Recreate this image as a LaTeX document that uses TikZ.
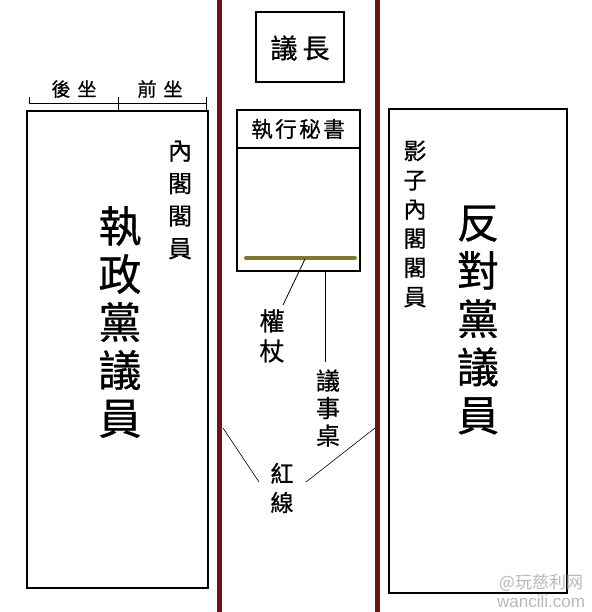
\documentclass[tikz,border=0pt]{standalone}
\usepackage{fontspec}
\setmainfont{Liberation Sans}
\newfontfamily\cjk[FakeBold=0.7]{Noto Sans CJK TC}
\newfontfamily\cjkplain{Noto Sans CJK TC}
\definecolor{redline}{RGB}{110,20,22}
\definecolor{macecol}{RGB}{128,122,40}
\begin{document}
\begin{tikzpicture}[x=1pt,y=-1pt,
  box/.style={draw=black,line width=1.4pt,inner sep=0pt},
  thinline/.style={draw=black,line width=0.8pt},
  redbar/.style={draw=redline,line width=5pt},
  vcol/.style 2 args={inner sep=0pt,align=center,font=\cjk\fontsize{#1}{#2}\selectfont},
  hlabel/.style={inner sep=0pt,font=\cjk\fontsize{#1}{#1}\selectfont},
  wmark/.style={inner sep=0pt,text=gray!55,font=#1}
]
\useasboundingbox (0,0) rectangle (591,612);
\fill[white] (0,0) rectangle (591,612);

% red lines
\coordinate (rlt) at (219.5,0);
\coordinate (rlb) at (219.5,612);
\coordinate (rrt) at (377.5,0);
\coordinate (rrb) at (377.5,612);
\draw[redbar] (rlt) -- (rlb);
\draw[redbar] (rrt) -- (rrb);

% benches
\node[box,minimum width=181pt,minimum height=477pt] (govbox) at (117.5,349.5) {};
\node[box,minimum width=178pt,minimum height=484pt] (oppbox) at (478,351) {};

% seat bracket
\coordinate (b1t) at (29,97);
\coordinate (b1b) at (29,103);
\coordinate (b2t) at (118,97);
\coordinate (b2b) at (118,111);
\coordinate (b3t) at (206,97);
\coordinate (b3b) at (206,111);
\draw[thinline] (b1t) -- (b1b);
\draw[thinline] (b2t) -- (b2b);
\draw[thinline] (b3t) -- (b3b);
\draw[thinline] (b1b) -- (b1b -| b3b);
\node[hlabel=19] (back) at (74,89) {後\hspace{7pt}坐};
\node[hlabel=19] (front) at (160,89) {前\hspace{7pt}坐};

% speaker
\node[box,minimum width=88pt,minimum height=70pt] (speakerbox) at (300,47) {};
\node[hlabel=27] (speaker) at (300,48) {議\hspace{5pt}長};

% clerk / table
\node[box,minimum width=123pt,minimum height=161pt] (tablebox) at (298.5,190.5) {};
\coordinate (divl) at (237,148);
\coordinate (divr) at (360,148);
\draw[line width=1.4pt] (divl) -- (divr);
\node[hlabel=21.5] (clerk) at (298,129) {執\hspace{2.5pt}行\hspace{2.5pt}秘\hspace{2.5pt}書};
\coordinate (macel) at (246,258);
\coordinate (macer) at (355,258);
\draw[macecol,line width=4pt,line cap=round] (macel) -- (macer);

% labels in the middle
\node[vcol={25}{30}] (macelabel) at (272,336) {權\\杖};
\coordinate (macept) at (305,259);
\coordinate (macetip) at (283,305);
\draw[thinline] (macept) -- (macetip);

\node[vcol={24}{27.5}] (tablelabel) at (328,408) {議\\事\\桌};
\coordinate (tablept) at (325,271);
\coordinate (tabletip) at (325,362);
\draw[thinline] (tablept) -- (tabletip);

\node[vcol={23}{29}] (redlabel) at (282,488) {紅\\線};
\coordinate (rl1) at (223,428);
\coordinate (rl1e) at (259,482);
\coordinate (rl2) at (375,428);
\coordinate (rl2e) at (306,482);
\draw[line width=0.6pt] (rl1) -- (rl1e);
\draw[line width=0.6pt] (rl2) -- (rl2e);

% government side
\node[vcol={24}{32.5}] (cabinet) at (180,200) {內\\閣\\閣\\員};
\node[vcol={43}{48}] (govmp) at (120,322) {執\\政\\黨\\議\\員};

% opposition side
\node[vcol={23}{29.2}] (shadow) at (415,224) {影\\子\\內\\閣\\閣\\員};
\node[vcol={42}{48.2}] (oppmp) at (478,320) {反\\對\\黨\\議\\員};

% watermark
\node[wmark=\cjkplain\fontsize{17}{17}\selectfont] (wm1) at (541,583) {@玩慈利网};
\node[wmark=\fontsize{17}{17}\selectfont] (wm2) at (541,601) {wancili.com};
\end{tikzpicture}
\end{document}
